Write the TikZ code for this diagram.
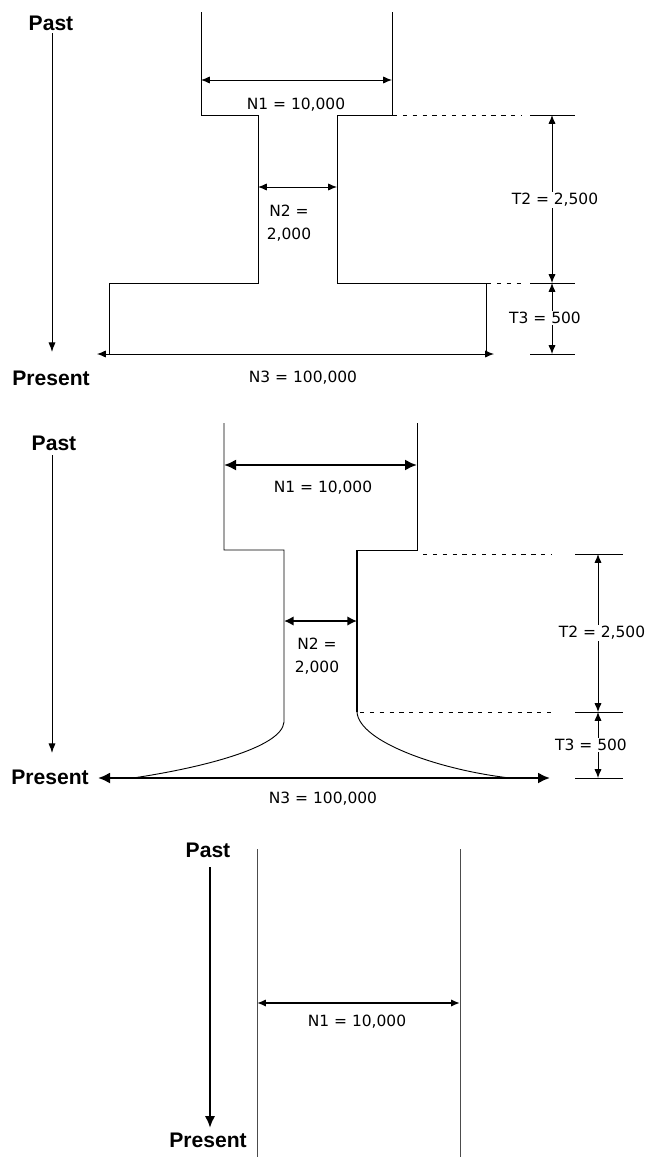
\documentclass[tikz,border=0pt]{standalone}
\usepackage{fontspec}
\setmainfont{Liberation Sans}
\newfontfamily\dimfont{DejaVu Sans}
\usetikzlibrary{arrows.meta}
\tikzset{
  outline/.style={line width=0.65pt},
  dimarrow/.style={{Latex[length=2.2mm,width=1.8mm]}-{Latex[length=2.2mm,width=1.8mm]}, line width=0.65pt},
  boldarrow/.style={{Latex[length=3mm,width=2.8mm]}-{Latex[length=3mm,width=2.8mm]}, line width=2pt},
  timearrow/.style={-{Latex[length=2.4mm,width=1.8mm]}, line width=0.7pt},
  guide/.style={dash pattern=on 3pt off 4pt, line width=0.6pt},
  endtick/.style={line width=0.65pt},
  dimlabel/.style={font=\dimfont\fontsize{11}{16}\selectfont, inner sep=1pt, align=center},
  gaplabel/.style={dimlabel, fill=white},
  timelabel/.style={font=\bfseries\fontsize{15}{17}\selectfont, inner sep=0pt}
}
\begin{document}
\begin{tikzpicture}[x=0.025cm, y=-0.025cm]
  \useasboundingbox (0,0) rectangle (651,1157);

  % first panel: stepwise bottleneck
  \node[timelabel] (past1) at (51,23) {Past};
  \node[timelabel] (present1) at (51,378) {Present};
  \coordinate (t1a) at (52,33);
  \coordinate (t1b) at (52,352);
  \draw[timearrow] (t1a) -- (t1b);
  \draw[outline] (201,12) -- (201,115) -- (258,115) -- (258,283) -- (109,283) -- (109,354);
  \draw[outline] (392,12) -- (392,115) -- (337,115) -- (337,283) -- (486,283) -- (486,354);
  \coordinate (n1l) at (201,80);  \coordinate (n1r) at (392,80);
  \coordinate (n2l) at (258,187); \coordinate (n2r) at (337,187);
  \coordinate (n3l) at (97,354);  \coordinate (n3r) at (494,354);
  \draw[dimarrow] (n1l) -- (n1r);
  \draw[dimarrow] (n2l) -- (n2r);
  \draw[dimarrow] (n3l) -- (n3r);
  \node[dimlabel] (lN1a) at (296,105) {N1 = 10,000};
  \node[dimlabel] (lN2a) at (289,223) {N2 =\\2,000};
  \node[dimlabel] (lN3a) at (303,378) {N3 = 100,000};
  \draw[guide] (393,115) -- (522,115);
  \draw[guide] (487,283) -- (522,283);
  \coordinate (g1) at (552,115); \coordinate (g2) at (552,283); \coordinate (g3) at (552,354);
  \foreach \yy in {115,283,354} \draw[endtick] (530,\yy) -- (575,\yy);
  \draw[dimarrow] (g1) -- (g2);
  \draw[dimarrow] (g2) -- (g3);
  \node[gaplabel] (lT2a) at (555,200) {T2 = 2,500};
  \node[gaplabel] (lT3a) at (545,318) {T3 = 500};

  % second panel: bottleneck with growth
  \node[timelabel] (past2) at (54,443) {Past};
  \node[timelabel] (present2) at (50,777) {Present};
  \coordinate (t2a) at (52,455);
  \coordinate (t2b) at (52,753);
  \draw[timearrow] (t2a) -- (t2b);
  \draw[outline] (224,423) -- (224,550) -- (284,550) -- (284,722)
    .. controls (282,748) and (200,768) .. (133,778);
  \draw[outline] (417,423) -- (417,550) -- (357,550);
  \draw[line width=1.2pt] (357,550) -- (357,712);
  \draw[outline] (357,712) .. controls (359,742) and (440,770) .. (510,778);
  \coordinate (m1l) at (224,465); \coordinate (m1r) at (417,465);
  \coordinate (m2l) at (284,621); \coordinate (m2r) at (357,621);
  \coordinate (m3l) at (98,778);  \coordinate (m3r) at (550,778);
  \draw[boldarrow] (m1l) -- (m1r);
  \draw[boldarrow, {Latex[length=2.4mm,width=2.4mm]}-{Latex[length=2.4mm,width=2.4mm]}] (m2l) -- (m2r);
  \draw[boldarrow] (m3l) -- (m3r);
  \node[dimlabel] (lN1b) at (323,488) {N1 = 10,000};
  \node[dimlabel] (lN2b) at (317,656) {N2 =\\2,000};
  \node[dimlabel] (lN3b) at (323,799) {N3 = 100,000};
  \draw[guide] (423,554) -- (552,554);
  \draw[guide] (360,712) -- (552,712);
  \coordinate (h1) at (598,554); \coordinate (h2) at (598,712); \coordinate (h3) at (598,778);
  \foreach \yy in {554,712,778} \draw[endtick] (575,\yy) -- (623,\yy);
  \draw[dimarrow] (h1) -- (h2);
  \draw[dimarrow] (h2) -- (h3);
  \node[gaplabel] (lT2b) at (602,633) {T2 = 2,500};
  \node[gaplabel] (lT3b) at (591,745) {T3 = 500};

  % third panel: constant size
  \node[timelabel] (past3) at (208,850) {Past};
  \node[timelabel] (present3) at (208,1140) {Present};
  \coordinate (t3a) at (210,867);
  \coordinate (t3b) at (210,1128);
  \draw[-{Latex[length=3mm,width=2.6mm]}, line width=2pt] (t3a) -- (t3b);
  \draw[outline, black!70] (257,849) -- (257,1157);
  \draw[outline, black!70] (460,849) -- (460,1157);
  \coordinate (k1l) at (257,1003); \coordinate (k1r) at (460,1003);
  \draw[dimarrow, line width=1.4pt] (k1l) -- (k1r);
  \node[dimlabel] (lN1c) at (357,1022) {N1 = 10,000};
\end{tikzpicture}
\end{document}
